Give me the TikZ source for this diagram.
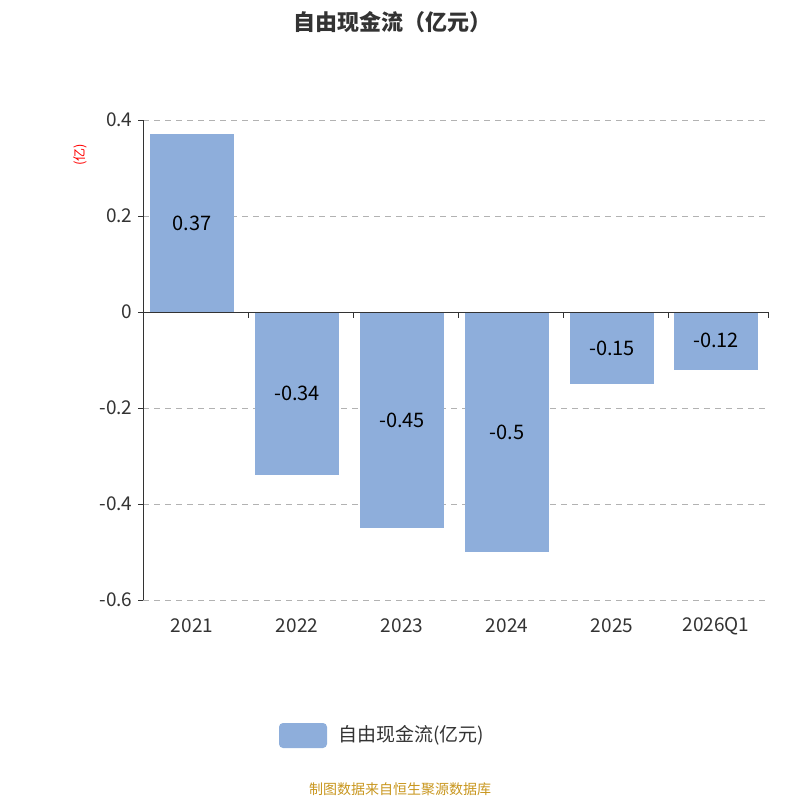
\documentclass[tikz,border=0pt]{standalone}
\usepackage{fontspec}
\setmainfont{Noto Sans CJK SC}
\begin{document}
\begin{tikzpicture}[x=1pt,y=-1pt,
  bar/.style={fill=barblue,draw=none},
  lbl/.style={font=\fontsize{20}{24}\selectfont,text=black},
  tk/.style={font=\fontsize{19}{22}\selectfont,text=axgray},
  grid/.style={draw=gray!60,dashed,line width=1pt,dash pattern=on 6pt off 5pt}]
\definecolor{barblue}{HTML}{8EAEDB}
\definecolor{axgray}{HTML}{333333}
\definecolor{gold}{HTML}{C8961E}
\useasboundingbox (0,0) rectangle (800,800);
\node (title) at (392,22) {\fontsize{22}{26}\selectfont\bfseries\color{axgray}自由现金流（亿元）};
\foreach \v/\p in {0.4/120,0.2/216,-0.2/408,-0.4/504,-0.6/600}{
  \draw[grid] (143,\p) -- (768,\p);
  \node[tk,anchor=east] (y\p) at (136,\p) {\v};
  \draw[axgray] (138,\p) -- (143,\p);}
\node[tk,anchor=east] (y0) at (136,312) {0};
\draw[axgray] (138,312) -- (143,312);
\node[rotate=90,text=red,font=\fontsize{13}{15}\selectfont] (unit) at (80,155) {(亿)};
\foreach \c/\v/\n [count=\i from 0] in {192/0.37/0.37,297/-0.34/-0.34,402/-0.45/-0.45,507/-0.5/-0.5,612/-0.15/-0.15,716/-0.12/-0.12}{
  \pgfmathsetmacro{\t}{312-480*\v}
  \fill[barblue] (\c-42,312) rectangle (\c+42,\t);
  \node[lbl] (b\i) at (\c,{(312+\t)/2}) {\n};}
\draw[axgray,line width=1pt] (143,120) -- (143,600);
\draw[axgray,line width=1pt] (143,312) -- (768,312);
\foreach \x in {143,248,353,458,563,668,768}{\draw[axgray] (\x,312) -- (\x,318);}
\foreach \c/\n [count=\i] in {192/2021,297/2022,402/2023,507/2024,612/2025,716/2026Q1}
  \node[tk] (x\i) at (\c,626) {\n};
\fill[barblue,rounded corners=4pt] (279,723) rectangle (327,748);
\node[tk,anchor=west] (leg) at (335,735) {自由现金流(亿元)};
\node[text=gold,font=\fontsize{14}{16}\selectfont] (foot) at (400,789) {制图数据来自恒生聚源数据库};
\end{tikzpicture}
\end{document}
